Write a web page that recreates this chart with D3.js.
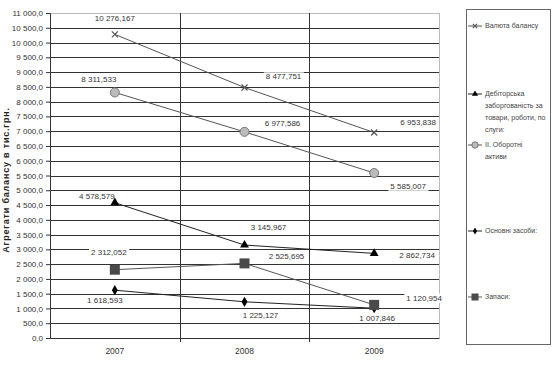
<!DOCTYPE html>
<html>
<head>
<meta charset="utf-8">
<script src="https://cdn.jsdelivr.net/npm/d3@7"></script>
<style>
  body { margin: 0; background: #fff; }
  svg { font-family: "Liberation Sans", Arial, sans-serif; }
</style>
</head>
<body>
<svg width="552" height="366"></svg>
<script>
var years = ["2007", "2008", "2009"];

var valyuta = [10276.167, 8477.751, 6953.838];
var debitorska = [4578.579, 3145.967, 2862.734];
var oborotni = [8311.533, 6977.586, 5585.007];
var osnovni = [1618.593, 1225.127, 1007.846];
var zapasy = [2312.052, 2525.695, 1120.954];

var yTicks = d3.range(0, 11001, 500);

var svg = d3.select("svg"),
    plotL = 50, plotR = 439, plotT = 13, plotB = 338;

var x = d3.scaleBand().domain(years).range([plotL, plotR]);
var y = d3.scaleLinear().domain([0, 11000]).range([plotB, plotT]);

var fmtNum = function(v, digits) {
  var s = v.toFixed(digits).split(".");
  var intPart = s[0].replace(/\B(?=(\d{3})+(?!\d))/g, " ");
  return intPart + "," + s[1];
};

// grid
svg.append("g").selectAll("line")
  .data(yTicks.slice(1))
  .enter().append("line")
    .attr("x1", plotL).attr("x2", plotR)
    .attr("y1", function(d) { return Math.round(y(d)) + 0.5; })
    .attr("y2", function(d) { return Math.round(y(d)) + 0.5; })
    .attr("stroke", function(d) { return d === 11000 ? "#bbb" : "#333"; })
    .attr("stroke-width", 1);

svg.append("line")
  .attr("x1", plotR + 0.5).attr("x2", plotR + 0.5).attr("y1", plotT).attr("y2", plotB)
  .attr("stroke", "#bbb");

svg.append("g").selectAll("line")
  .data(years.slice(1))
  .enter().append("line")
    .attr("x1", function(d) { return Math.round(x(d)) + 0.5; })
    .attr("x2", function(d) { return Math.round(x(d)) + 0.5; })
    .attr("y1", plotT).attr("y2", plotB + 4)
    .attr("stroke", "#333");

// y axis
var yAxis = svg.append("g")
  .attr("transform", "translate(" + plotL + ",0)")
  .call(d3.axisLeft(y).tickValues(yTicks).tickSize(4).tickPadding(3)
    .tickFormat(function(d) { return fmtNum(d, 1); }));
yAxis.select(".domain").attr("stroke", "#333");
yAxis.selectAll(".tick line").attr("stroke", "#333");
yAxis.selectAll("text").attr("font-size", "8px").attr("fill", "#333")
  .attr("font-family", "Liberation Sans Narrow, Liberation Sans, Arial");

// x axis
var xAxis = svg.append("g")
  .attr("transform", "translate(0," + plotB + ")")
  .call(d3.axisBottom(x).tickSize(0).tickPadding(10));
xAxis.select(".domain").attr("stroke", "#333");
xAxis.selectAll("text").attr("font-size", "8.5px").attr("fill", "#333");

svg.append("text")
  .attr("transform", "translate(9,180) rotate(-90)")
  .attr("text-anchor", "middle")
  .attr("font-size", "9px")
  .attr("font-weight", "bold")
  .attr("letter-spacing", "0.8px")
  .attr("fill", "#222")
  .text("Агрегати балансу  в тис.грн.");

var series = [
  { name: ["Валюта балансу"], values: valyuta, marker: "cross", color: "#555",
    off: [[0, -16], [39, -11], [44, -10]], legendY: 26 },
  { name: ["Дебіторська", "заборгованість за", "товари, роботи, по", "слуги:"], values: debitorska, marker: "triangle", color: "#222",
    off: [[-18, -7], [24, -18], [43, 2]], legendY: 94 },
  { name: ["II. Оборотні", "активи"], values: oborotni, marker: "circle", color: "#555",
    off: [[-16, -13], [38, -9], [34, 13]], legendY: 145 },
  { name: ["Основні засоби:"], values: osnovni, marker: "diamond", color: "#222",
    off: [[-10, 10], [16, 13], [3, 10]], legendY: 231 },
  { name: ["Запаси:"], values: zapasy, marker: "square", color: "#555",
    off: [[-6, -17], [42, -7], [50, -7]], legendY: 297 }
];

var line = d3.line()
  .x(function(d, i) { return x(years[i]) + x.bandwidth() / 2; })
  .y(function(d) { return y(d); });

function drawMarker(g, type, cx, cy, scale) {
  scale = scale || 1;
  if (type === "cross") {
    var r = 3 * scale;
    g.append("path")
      .attr("d", "M" + (cx - r) + "," + (cy - r) + "L" + (cx + r) + "," + (cy + r) +
        "M" + (cx - r) + "," + (cy + r) + "L" + (cx + r) + "," + (cy - r))
      .attr("stroke", "#555").attr("stroke-width", 1.2);
  } else if (type === "triangle") {
    g.append("path").attr("transform", "translate(" + cx + "," + cy + ")")
      .attr("d", d3.symbol(d3.symbolTriangle, 34 * scale * scale)()).attr("fill", "#000");
  } else if (type === "circle") {
    g.append("circle").attr("cx", cx).attr("cy", cy).attr("r", 4.5 * scale)
      .attr("fill", "#bbb").attr("stroke", "#777").attr("stroke-width", 1);
  } else if (type === "diamond") {
    g.append("path").attr("transform", "translate(" + cx + "," + cy + ")")
      .attr("d", d3.symbol(d3.symbolDiamond, 30 * scale * scale)()).attr("fill", "#000");
  } else if (type === "square") {
    var h = 5 * scale;
    g.append("rect").attr("x", cx - h).attr("y", cy - h).attr("width", 2 * h).attr("height", 2 * h)
      .attr("fill", "#4a4a4a");
  }
}

var lines = svg.append("g");
series.forEach(function(s) {
  lines.append("path")
    .attr("d", line(s.values))
    .attr("fill", "none")
    .attr("stroke", s.color)
    .attr("stroke-width", 1);
});

var labels = svg.append("g");
series.forEach(function(s) {
  s.values.forEach(function(v, i) {
    var cx = x(years[i]) + x.bandwidth() / 2 + s.off[i][0],
        cy = y(v) + s.off[i][1];
    var t = labels.append("text")
      .attr("x", cx).attr("y", cy)
      .attr("dy", "0.35em")
      .attr("text-anchor", "middle")
      .attr("font-size", "8px")
      .attr("fill", "#333")
      .text(fmtNum(v, 3));
    var bb = t.node().getBBox();
    labels.insert("rect", "text")
      .attr("x", bb.x - 2).attr("y", bb.y)
      .attr("width", bb.width + 4).attr("height", bb.height)
      .attr("fill", "#fff");
  });
});

var markers = svg.append("g");
series.forEach(function(s) {
  s.values.forEach(function(v, i) {
    drawMarker(markers, s.marker, x(years[i]) + x.bandwidth() / 2, y(v));
  });
});

// legend
var legend = svg.append("g");
legend.append("rect")
  .attr("x", 466.5).attr("y", 9.5).attr("width", 84).attr("height", 335)
  .attr("fill", "#fff").attr("stroke", "#666");

series.forEach(function(s) {
  legend.append("line")
    .attr("x1", 468).attr("x2", 482)
    .attr("y1", s.legendY).attr("y2", s.legendY)
    .attr("stroke", s.color);
  drawMarker(legend, s.marker, 475, s.legendY, 0.7);
  var t = legend.append("text")
    .attr("x", 485).attr("y", s.legendY)
    .attr("font-size", "7px")
    .attr("fill", "#444");
  s.name.forEach(function(n, k) {
    t.append("tspan").attr("x", 485).attr("dy", k === 0 ? "0.35em" : "12px").text(n);
  });
});
</script>
</body>
</html>
